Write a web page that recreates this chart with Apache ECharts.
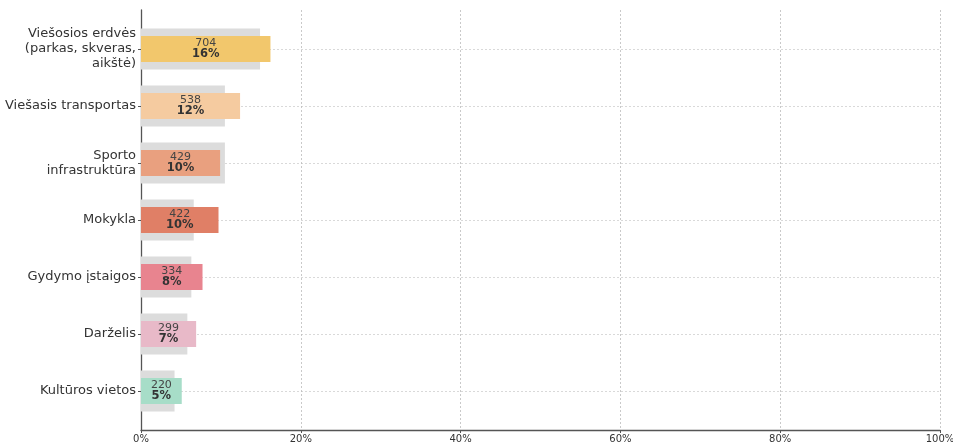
<!DOCTYPE html>
<html><head><meta charset="utf-8">
<script src="https://cdn.jsdelivr.net/npm/echarts@6/dist/echarts.min.js"></script>
<style>html,body{margin:0;padding:0;background:#fff}#c{width:953px;height:443px}</style>
</head><body><div id="c"></div>
<script>
const categories = ["Viešosios erdvės\n(parkas, skveras,\naikštė)", "Viešasis transportas", "Sporto\ninfrastruktūra", "Mokykla", "Gydymo įstaigos", "Darželis", "Kultūros vietos"];
const counts = [704, 538, 429, 422, 334, 299, 220];
const percentValues = [16.2, 12.4, 9.9, 9.7, 7.7, 6.9, 5.1];
const percentLabels = ["16%", "12%", "10%", "10%", "8%", "7%", "5%"];
const backgroundValues = [14.9, 10.5, 10.5, 6.6, 6.3, 5.8, 4.2];
const barColors = ["#F2C76C", "#F5CBA0", "#E9A07F", "#E07F66", "#E8848F", "#E8B9C8", "#A7DDC8"];
const xTicks = [0, 20, 40, 60, 80, 100];

const chart = echarts.init(document.getElementById('c'));
const font = "DejaVu Sans";
chart.setOption({
  animation: false,
  textStyle: { fontFamily: font },
  grid: [
    { left: 141, right: 13, top: 49, height: 342, containLabel: false, outerBoundsMode: 'none' },
    { left: 141, right: 13, top: 10, height: 420, containLabel: false, outerBoundsMode: 'none' }
  ],
  xAxis: [
    { gridIndex: 0, type: 'value', min: 0, max: 100, show: false },
    { gridIndex: 1, type: 'value', min: xTicks[0], max: xTicks[xTicks.length - 1], interval: 20,
      axisLine: { show: true, lineStyle: { color: '#555', width: 1.3 } },
      axisTick: { show: true, length: 3, lineStyle: { color: '#555' } },
      axisLabel: { formatter: '{value}%', fontSize: 10, color: '#333', margin: 4, fontFamily: font, hideOverlap: false },
      splitLine: { show: true, lineStyle: { color: '#bbb', type: [2, 2], width: 0.8 } }
    }
  ],
  yAxis: [
    { gridIndex: 0, type: 'category', inverse: true, boundaryGap: false, data: categories,
      axisLine: { show: false },
      axisTick: { show: true, length: 3, lineStyle: { color: '#555' } },
      axisLabel: { fontSize: 13, color: '#333', margin: 5, lineHeight: 15, align: 'right', fontFamily: font },
      splitLine: { show: true, lineStyle: { color: '#d0d0d0', type: [2, 2], width: 0.8 } }
    },
    { gridIndex: 1, type: 'value', min: 0, max: 1,
      axisLine: { show: true, lineStyle: { color: '#555', width: 1.3 } },
      axisTick: { show: false }, axisLabel: { show: false }, splitLine: { show: false }
    },
    { gridIndex: 0, type: 'category', inverse: true, boundaryGap: false, data: categories, show: false }
  ],
  series: [
    { type: 'bar', xAxisIndex: 0, yAxisIndex: 2, data: backgroundValues, barWidth: 41, clip: false,
      itemStyle: { color: '#dcdcdc' }, z: 1, silent: true },
    { type: 'bar', xAxisIndex: 0, yAxisIndex: 0, barWidth: 26, clip: false, z: 3,
      data: percentValues.map((v, i) => ({ value: v, itemStyle: { color: barColors[i] } })),
      label: { show: true, position: 'inside',
        formatter: p => '{a|' + counts[p.dataIndex] + '}\n{b|' + percentLabels[p.dataIndex] + '}',
        rich: {
          a: { fontSize: 11, color: '#444', lineHeight: 11, fontFamily: font },
          b: { fontSize: 11.5, color: '#333', fontWeight: 'bold', lineHeight: 12, fontFamily: font }
        }
      }
    }
  ]
});
</script></body></html>
